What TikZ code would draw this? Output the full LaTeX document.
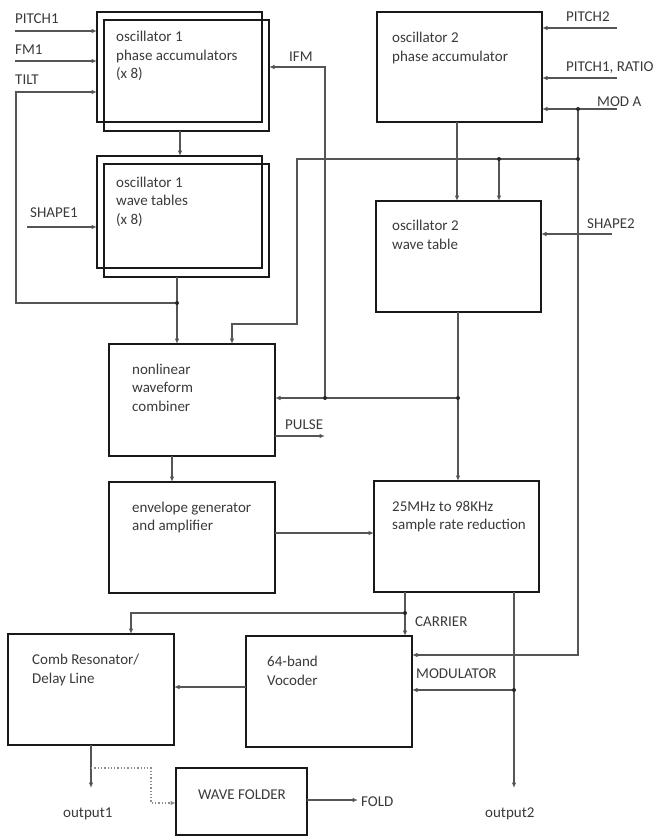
\documentclass[tikz,border=0pt]{standalone}
\usepackage{fontspec}
\setmainfont{Carlito}
\usetikzlibrary{arrows.meta,calc}
\definecolor{txt}{HTML}{3A3A3A}
\definecolor{ln}{HTML}{555555}
\begin{document}
\begin{tikzpicture}[x=1pt,y=-1pt,
  box/.style={draw=black!90, line width=2.2pt, inner sep=0pt, outer sep=0pt},
  lbl/.style={inner sep=0pt, anchor=base west, align=left, text=txt,
              font=\fontsize{15}{18.5}\selectfont},
  conn/.style={draw=ln, line width=1.3pt},
  arr/.style={conn, -{Latex[length=5.5pt,width=4.5pt]}},
  dot/.style={circle, fill=black!85, inner sep=0pt, minimum size=4pt}]
\useasboundingbox (0,0) rectangle (662,840);
% ---------- boxes
\node[box, minimum width=165pt, minimum height=110pt] (osc1paB) at (179.5,67) {};
\node[box, minimum width=165pt, minimum height=111pt] (osc1pa) at (186.5,75.5) {};
\node[box, minimum width=165pt, minimum height=112pt] (osc1wtB) at (179.5,212) {};
\node[box, minimum width=165pt, minimum height=113pt] (osc1wt) at (186.5,220.5) {};
\node[box, minimum width=165pt, minimum height=110pt] (osc2pa) at (459.5,67) {};
\node[box, minimum width=165pt, minimum height=111pt] (osc2wt) at (458.5,256.5) {};
\node[box, minimum width=166pt, minimum height=112pt] (comb) at (192,400) {};
\node[box, minimum width=166pt, minimum height=111pt] (env) at (192,537.5) {};
\node[box, minimum width=165pt, minimum height=111pt] (srr) at (456.5,536.5) {};
\node[box, minimum width=166pt, minimum height=111pt] (combres) at (91,689.5) {};
\node[box, minimum width=166pt, minimum height=111pt] (voc) at (329,691.5) {};
\node[box, minimum width=131pt, minimum height=67pt] (wf) at (241.5,801.5) {};
% ---------- box texts (anchor = baseline of the last line)
\node[lbl] (t-osc1pa) at (116,79) {oscillator 1\\phase accumulators\\(x 8)};
\node[lbl] (t-osc1wt) at (116,224) {oscillator 1\\wave tables\\(x 8)};
\node[lbl] (t-osc2pa) at (392,61.5) {oscillator 2\\phase accumulator};
\node[lbl] (t-osc2wt) at (392,249) {oscillator 2\\wave table};
\node[lbl] (t-comb) at (132,411) {nonlinear\\waveform\\combiner};
\node[lbl] (t-env) at (132,530.5) {envelope generator\\and amplifier};
\node[lbl] (t-srr) at (392,529.5) {25MHz to 98KHz\\sample rate reduction};
\node[lbl] (t-combres) at (32,683) {Comb Resonator/\\Delay Line};
\node[lbl] (t-voc) at (267,685) {64-band\\Vocoder};
\node[lbl] (t-wf) at (198,799) {WAVE FOLDER};
% ---------- signal labels
\node[lbl] (l-pitch1) at (15,24) {PITCH1};
\node[lbl] (l-fm1) at (15,55) {FM1};
\node[lbl] (l-tilt) at (15,85) {TILT};
\node[lbl] (l-shape1) at (30,217) {SHAPE1};
\node[lbl] (l-ifm) at (289,62) {IFM};
\node[lbl] (l-pitch2) at (566,22) {PITCH2};
\node[lbl] (l-p1r) at (566,72) {PITCH1, RATIO};
\node[lbl] (l-moda) at (597,107) {MOD A};
\node[lbl] (l-shape2) at (587,228) {SHAPE2};
\node[lbl] (l-pulse) at (285,429) {PULSE};
\node[lbl] (l-carrier) at (415,626) {CARRIER};
\node[lbl] (l-mod) at (416,678) {MODULATOR};
\node[lbl] (l-fold) at (361,806) {FOLD};
\node[lbl] (l-out1) at (63,817) {output1};
\node[lbl] (l-out2) at (485,817) {output2};
% ---------- coordinates
\coordinate (pitch1) at (15,31);
\coordinate (fm1) at (15,61);
\coordinate (tilt) at (16,92);
\coordinate (shape1) at (27,227);
\coordinate (j1) at (177,303);
\coordinate (ifm) at (325,67);
\coordinate (jifm) at (325,398);
\coordinate (jw) at (458,398);
\coordinate (b0) at (297,159);
\coordinate (b1) at (297,324);
\coordinate (b2) at (232,324);
\coordinate (jb1) at (499,159);
\coordinate (jb2) at (578,159);
\coordinate (pitch2) at (617,28);
\coordinate (p1r) at (617,78);
\coordinate (moda) at (617,109);
\coordinate (modaj) at (578,109);
\coordinate (vm) at (578,655);
\coordinate (shape2) at (612,234);
\coordinate (pulse) at (325,436);
\coordinate (jc) at (405,613);
\coordinate (cc) at (131,613);
\coordinate (jo) at (514,690);
\coordinate (out2) at (514,788);
\coordinate (out1) at (91,788);
\coordinate (d0) at (91,768);
\coordinate (d1) at (151,768);
\coordinate (d2) at (151,803);
\coordinate (fold) at (358,800);
% ---------- connectors
\draw[arr] (pitch1) -- (pitch1 -| osc1paB.west);
\draw[arr] (fm1) -- (fm1 -| osc1paB.west);
\draw[arr] (j1) -| (tilt) -- (tilt -| osc1paB.west);
\draw[arr] (shape1) -- (shape1 -| osc1wtB.west);
\draw[arr] ($(osc1pa.south)+(-6.5,0)$) coordinate (a1) -- (a1 |- osc1wtB.north);
\draw[arr] (osc1wt.south -| j1) -- (j1 |- comb.north);
\draw[arr] (jifm) -- (ifm) -- (ifm -| osc1pa.east);
\draw[arr] (jb2) -- (b0) -- (b1) -- (b2) -- (b2 |- comb.north);
\draw[arr] (jb1) -- (jb1 |- osc2wt.north);
\draw[arr] ($(osc2pa.south)+(-2.5,0)$) coordinate (a2) -- (a2 |- osc2wt.north);
\draw[arr] (pitch2) -- (pitch2 -| osc2pa.east);
\draw[arr] (p1r) -- (p1r -| osc2pa.east);
\draw[arr] (moda) -- (moda -| osc2pa.east);
\draw[arr] (modaj) -- (vm) -- (vm -| voc.east);
\draw[arr] (shape2) -- (shape2 -| osc2wt.east);
\draw[arr] (osc2wt.south -| jw) -- (jw |- srr.north);
\draw[arr] (jw) -- (jw -| comb.east);
\draw[arr] (pulse -| comb.east) -- (pulse);
\draw[arr] ($(comb.south)+(-20,0)$) coordinate (a3) -- (a3 |- env.north);
\draw[arr] ($(env.east)+(0,-4.5)$) coordinate (a4) -- (a4 -| srr.west);
\draw[arr] (srr.south -| jc) -- (jc |- voc.north);
\draw[arr] (jc) -- (cc) -- (cc |- combres.north);
\draw[arr] (srr.south -| jo) -- (out2);
\draw[arr] (jo) -- (jo -| voc.east);
\draw[arr] ($(voc.west)+(0,-4.5)$) coordinate (a5) -- (a5 -| combres.east);
\draw[arr] (combres.south) -- (out1);
\draw[arr, draw=black!45, dotted, line width=1.1pt] (d0) -- (d1) -- (d2) -- (d2 -| wf.west);
\draw[arr] ($(wf.east)+(0,-1.5)$) -- (fold);
% ---------- junction dots
\foreach \p in {j1,jifm,jw,jb1,jb2,modaj,jc,jo}
  \node[dot] (dot-\p) at (\p) {};
\end{tikzpicture}
\end{document}
